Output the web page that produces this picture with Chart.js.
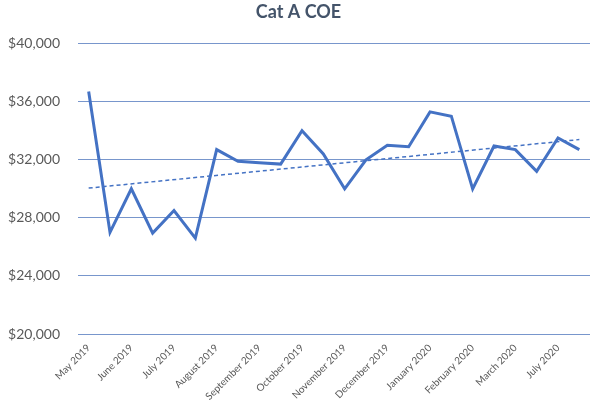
<!DOCTYPE html>
<html>
<head>
<meta charset="utf-8">
<script src="https://cdn.jsdelivr.net/npm/chart.js@4/dist/chart.umd.min.js"></script>
<style>
    html, body { margin: 0; padding: 0; background: #fff; }
    #wrap { width: 600px; height: 400px; }
</style>
</head>
<body>
<div id="wrap"><canvas id="coe-chart"></canvas></div>
<script>
// Cat A COE - two bidding exercises per month
const months = ['May 2019', 'June 2019', 'July 2019', 'August 2019', 'September 2019',
    'October 2019', 'November 2019', 'December 2019', 'January 2020',
    'February 2020', 'March 2020', 'July 2020'];

const coePrices = [36700, 27000, 30000, 26950, 28500, 26600, 32700, 31900,
    31800, 31700, 34000, 32400, 30000, 32000, 33000, 32900,
    35300, 35000, 30000, 32950, 32700, 31200, 33500, 32700];

// dotted trend line, start and end
const trendEnds = [30050, 33390];

const yTicks = [20000, 24000, 28000, 32000, 36000, 40000];

// each month has two rounds, label only the first one
const labels = [];
months.forEach(m => { labels.push(m); labels.push(m); });

const trendData = coePrices.map(() => null);
trendData[0] = trendEnds[0];
trendData[trendData.length - 1] = trendEnds[1];

const ctx = document.getElementById('coe-chart').getContext('2d');

new Chart(ctx, {
    type: 'line',
    data: {
        labels: labels,
        datasets: [{
            label: 'Cat A COE',
            data: coePrices,
            borderColor: '#4472c4',
            borderWidth: 3,
            pointRadius: 0,
            tension: 0,
            borderJoinStyle: 'miter'
        }, {
            label: 'Trend',
            data: trendData,
            borderColor: '#4472c4',
            borderWidth: 1.5,
            borderDash: [4, 3],
            pointRadius: 0,
            spanGaps: true
        }]
    },
    options: {
        responsive: true,
        maintainAspectRatio: false,
        animation: false,
        layout: { padding: { left: 7, right: 10, top: 0, bottom: 0 } },
        plugins: {
            legend: { display: false },
            tooltip: { enabled: false },
            title: {
                display: true,
                text: 'Cat A COE',
                color: '#44546a',
                font: { family: 'Lato', size: 18, weight: 'bold' },
                padding: { top: 1, bottom: 21 }
            }
        },
        scales: {
            x: {
                offset: true,
                grid: { display: false, drawTicks: false },
                border: { display: false },
                afterFit: axis => {
                    axis.paddingLeft = 0;
                    axis.paddingRight = 0;
                    axis.height = 66;
                },
                ticks: {
                    autoSkip: false,
                    minRotation: 45,
                    maxRotation: 45,
                    color: '#595959',
                    font: { family: 'Lato', size: 10 },
                    padding: 8,
                    callback: function (value, index) {
                        return index % 2 === 0 ? this.getLabelForValue(value) : '';
                    }
                }
            },
            y: {
                min: yTicks[0],
                max: yTicks[yTicks.length - 1],
                afterBuildTicks: axis => { axis.ticks = yTicks.map(v => ({ value: v })); },
                afterFit: axis => { axis.width = 71; },
                grid: { color: '#7896cc', lineWidth: 1, drawTicks: false },
                border: { display: false },
                ticks: {
                    color: '#595959',
                    font: { family: 'Lato', size: 14 },
                    padding: 18,
                    callback: v => '$' + v.toLocaleString('en-US')
                }
            }
        }
    }
});
</script>
</body>
</html>
